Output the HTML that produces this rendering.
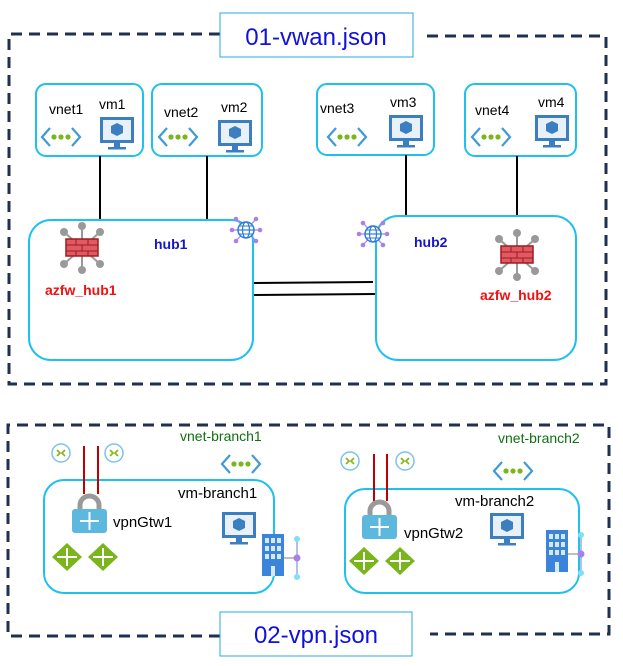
<!DOCTYPE html>
<html><head><meta charset="utf-8"><style>
html,body{margin:0;padding:0;background:#fff;}
svg{display:block;font-family:"Liberation Sans",sans-serif;}
</style></head><body>
<svg width="623" height="666" viewBox="0 0 623 666" xmlns="http://www.w3.org/2000/svg">
<defs>
<g id="vnet">
<path d="M8 0 L0 9 L8 18" fill="none" stroke="#3f9ad6" stroke-width="2.2"/>
<path d="M30 0 L38 9 L30 18" fill="none" stroke="#3f9ad6" stroke-width="2.2"/>
<circle cx="12" cy="9" r="2.6" fill="#7bb51c"/><circle cx="19" cy="9" r="2.6" fill="#7bb51c"/><circle cx="26" cy="9" r="2.6" fill="#7bb51c"/>
</g>
<g id="vm">
<rect x="0" y="0" width="34" height="26" fill="#3c7fc0"/>
<rect x="3" y="3" width="28" height="20" fill="#e8f1fa"/>
<path d="M17 6 l6 3 v7 l-6 3 l-6 -3 v-7z" fill="#3c7fc0"/>
<rect x="14" y="26" width="6" height="4" fill="#3c7fc0"/>
<rect x="8" y="30" width="18" height="2.5" fill="#3c7fc0"/>
</g>
<g id="fw">
<g stroke="#999" stroke-width="2"><line x1="0" y1="-22" x2="0" y2="22"/><line x1="-18" y1="-16" x2="18" y2="16"/><line x1="18" y1="-16" x2="-18" y2="16"/></g>
<g fill="#999"><circle cx="0" cy="-22" r="4"/><circle cx="0" cy="22" r="4"/><circle cx="-18" cy="-16" r="4"/><circle cx="18" cy="-16" r="4"/><circle cx="-18" cy="16" r="4"/><circle cx="18" cy="16" r="4"/></g>
<rect x="-16" y="-9" width="32" height="17" fill="#e05a64" stroke="#a01a20" stroke-width="1.5"/>
<g stroke="#a01a20" stroke-width="1"><line x1="-16" y1="-3" x2="16" y2="-3"/><line x1="-16" y1="3" x2="16" y2="3"/><line x1="-6" y1="-9" x2="-6" y2="-3"/><line x1="6" y1="-9" x2="6" y2="-3"/><line x1="0" y1="-3" x2="0" y2="3"/><line x1="-6" y1="3" x2="-6" y2="8"/><line x1="6" y1="3" x2="6" y2="8"/></g>
</g>
<g id="globe">
<g stroke="#a880e8" stroke-width="1.2"><line x1="-14" y1="0" x2="14" y2="0"/><line x1="-10" y1="-11" x2="10" y2="11"/><line x1="10" y1="-11" x2="-10" y2="11"/></g>
<g fill="#a880e8"><circle cx="-14" cy="0" r="2.3"/><circle cx="14" cy="0" r="2.3"/><circle cx="-10" cy="-11" r="2.3"/><circle cx="10" cy="-11" r="2.3"/><circle cx="-10" cy="11" r="2.3"/><circle cx="10" cy="11" r="2.3"/></g>
<circle r="8" fill="#fff" stroke="#2a7bd6" stroke-width="1.5"/>
<ellipse rx="3.5" ry="8" fill="none" stroke="#2a7bd6" stroke-width="1.2"/>
<line x1="-8" y1="0" x2="8" y2="0" stroke="#2a7bd6" stroke-width="1.2"/>
<line x1="-7" y1="-4" x2="7" y2="-4" stroke="#2a7bd6" stroke-width="1"/><line x1="-7" y1="4" x2="7" y2="4" stroke="#2a7bd6" stroke-width="1"/>
</g>
<g id="conn">
<circle r="9" fill="#fff" stroke="#7cc3ea" stroke-width="1.5"/>
<path d="M-4 -3 l3 3 l-3 3 M4 -3 l-3 3 l3 3" fill="none" stroke="#8bb81e" stroke-width="1.8"/>
</g>
<g id="lock">
<path d="M8 16 v-5 a9.5 9 0 0 1 19 0 v5" fill="none" stroke="#9a9a9a" stroke-width="5"/>
<rect x="0" y="15" width="35" height="24" rx="3" fill="#5db8de"/>
<path d="M17.5 18 v18 M8 27 h19" stroke="#fff" stroke-width="2"/>
</g>
<g id="router">
<path d="M15 0 L30 14 L15 28 L0 14z" fill="#7bb51c"/>
<path d="M15 5 v18 M5 14 h20" stroke="#fff" stroke-width="2"/>
</g>
<g id="bldg">
<rect x="0" y="0" width="22" height="42" fill="#3a84dc"/>
<g fill="#d6e8fb"><rect x="3" y="4" width="4" height="5"/><rect x="9" y="4" width="4" height="5"/><rect x="15" y="4" width="4" height="5"/>
<rect x="3" y="12" width="4" height="5"/><rect x="9" y="12" width="4" height="5"/><rect x="15" y="12" width="4" height="5"/>
<rect x="3" y="20" width="4" height="5"/><rect x="9" y="20" width="4" height="5"/><rect x="15" y="20" width="4" height="5"/>
<rect x="9" y="32" width="4" height="10"/></g>
<line x1="22" y1="24" x2="35" y2="24" stroke="#aaa" stroke-width="1.5"/>
<line x1="35" y1="5" x2="35" y2="43" stroke="#9ad" stroke-width="1.5"/>
<circle cx="35" cy="5" r="3" fill="#7fe0f5"/><circle cx="35" cy="43" r="3" fill="#7fe0f5"/><circle cx="35" cy="24" r="3.5" fill="#a880e8"/>
</g>
</defs>

<!-- top dashed -->
<path d="M220 34 H9 V384 H606 V36 H426" fill="none" stroke="#1f3050" stroke-width="3" stroke-dasharray="11 7"/>
<rect x="220" y="13" width="193" height="44" fill="#fff" stroke="#29a8e0" stroke-width="1"/>
<text x="316" y="45" font-size="24" fill="#1010e0" text-anchor="middle">01-vwan.json</text>

<g fill="#fff" stroke="#1ec0f0" stroke-width="2">
<rect x="36" y="84" width="107" height="72" rx="10"/>
<rect x="152" y="84" width="110" height="72" rx="10"/>
<rect x="317" y="84" width="117" height="71" rx="10"/>
<rect x="465" y="84" width="111" height="72" rx="10"/>
</g>
<g font-size="14" fill="#000">
<text x="49" y="114">vnet1</text><text x="99" y="109">vm1</text>
<text x="164" y="117">vnet2</text><text x="221" y="112">vm2</text>
<text x="320" y="113">vnet3</text><text x="390" y="107">vm3</text>
<text x="475" y="115">vnet4</text><text x="538" y="107">vm4</text>
</g>
<use href="#vnet" x="42" y="128"/><use href="#vm" x="100" y="117"/>
<use href="#vnet" x="159" y="128"/><use href="#vm" x="218" y="120"/>
<use href="#vnet" x="328" y="128"/><use href="#vm" x="389" y="115"/>
<use href="#vnet" x="472" y="128"/><use href="#vm" x="535" y="115"/>

<g stroke="#000" stroke-width="2">
<line x1="100" y1="156" x2="100" y2="220"/>
<line x1="207" y1="156" x2="207" y2="220"/>
<line x1="406" y1="155" x2="406" y2="223"/>
<line x1="517" y1="156" x2="517" y2="224"/>
<line x1="253" y1="283" x2="373" y2="282"/>
<line x1="253" y1="295" x2="376" y2="294"/>
</g>

<rect x="29" y="220" width="224" height="140" rx="22" fill="none" stroke="#1ec0f0" stroke-width="2"/>
<rect x="376" y="216" width="200" height="144" rx="22" fill="#fff" stroke="#1ec0f0" stroke-width="2"/>
<text x="154" y="249" font-size="14" font-weight="bold" fill="#1515d0">hub1</text>
<text x="414" y="247" font-size="14" font-weight="bold" fill="#1515d0">hub2</text>
<use href="#fw" x="82" y="248"/>
<use href="#fw" x="517" y="255"/>
<text x="45" y="295" font-size="14" font-weight="bold" fill="#f01010">azfw_hub1</text>
<text x="480" y="300" font-size="14" font-weight="bold" fill="#f01010">azfw_hub2</text>
<use href="#globe" x="246" y="230"/>
<use href="#globe" x="373" y="234"/>

<!-- bottom dashed -->
<path d="M220 636 H8 V425 H609 V634 H430" fill="none" stroke="#1f3050" stroke-width="3" stroke-dasharray="11 7"/>
<rect x="220" y="612" width="192" height="44" fill="#fff" stroke="#29a8e0" stroke-width="1"/>
<text x="316" y="643" font-size="24" fill="#1010e0" text-anchor="middle">02-vpn.json</text>

<text x="180" y="441" font-size="14" fill="#107010">vnet-branch1</text>
<text x="498" y="443" font-size="14" fill="#107010">vnet-branch2</text>
<use href="#vnet" x="222" y="455"/>
<use href="#vnet" x="494" y="462"/>

<rect x="44" y="480" width="230" height="113" rx="20" fill="none" stroke="#1ec0f0" stroke-width="2"/>
<rect x="345" y="489" width="234" height="104" rx="20" fill="none" stroke="#1ec0f0" stroke-width="2"/>

<g stroke="#c00000" stroke-width="2">
<line x1="84" y1="446" x2="84" y2="494"/><line x1="98" y1="446" x2="98" y2="494"/>
<line x1="374" y1="454" x2="374" y2="501"/><line x1="387" y1="454" x2="387" y2="501"/>
</g>
<use href="#conn" x="61" y="453"/><use href="#conn" x="114" y="453"/>
<use href="#conn" x="350" y="461"/><use href="#conn" x="405" y="461"/>

<use href="#lock" x="72" y="494"/>
<use href="#lock" x="362" y="500"/>
<text x="113" y="527" font-size="15" fill="#000">vpnGtw1</text>
<text x="404" y="538" font-size="15" fill="#000">vpnGtw2</text>
<text x="178" y="498" font-size="15" fill="#000">vm-branch1</text>
<text x="455" y="506" font-size="15" fill="#000">vm-branch2</text>
<use href="#vm" x="222" y="512"/>
<use href="#vm" x="490" y="513"/>
<use href="#router" x="52" y="543"/><use href="#router" x="88" y="543"/>
<use href="#router" x="349" y="547"/><use href="#router" x="385" y="547"/>
<use href="#bldg" x="262" y="534"/>
<use href="#bldg" x="546" y="530"/>
</svg>
</body></html>
